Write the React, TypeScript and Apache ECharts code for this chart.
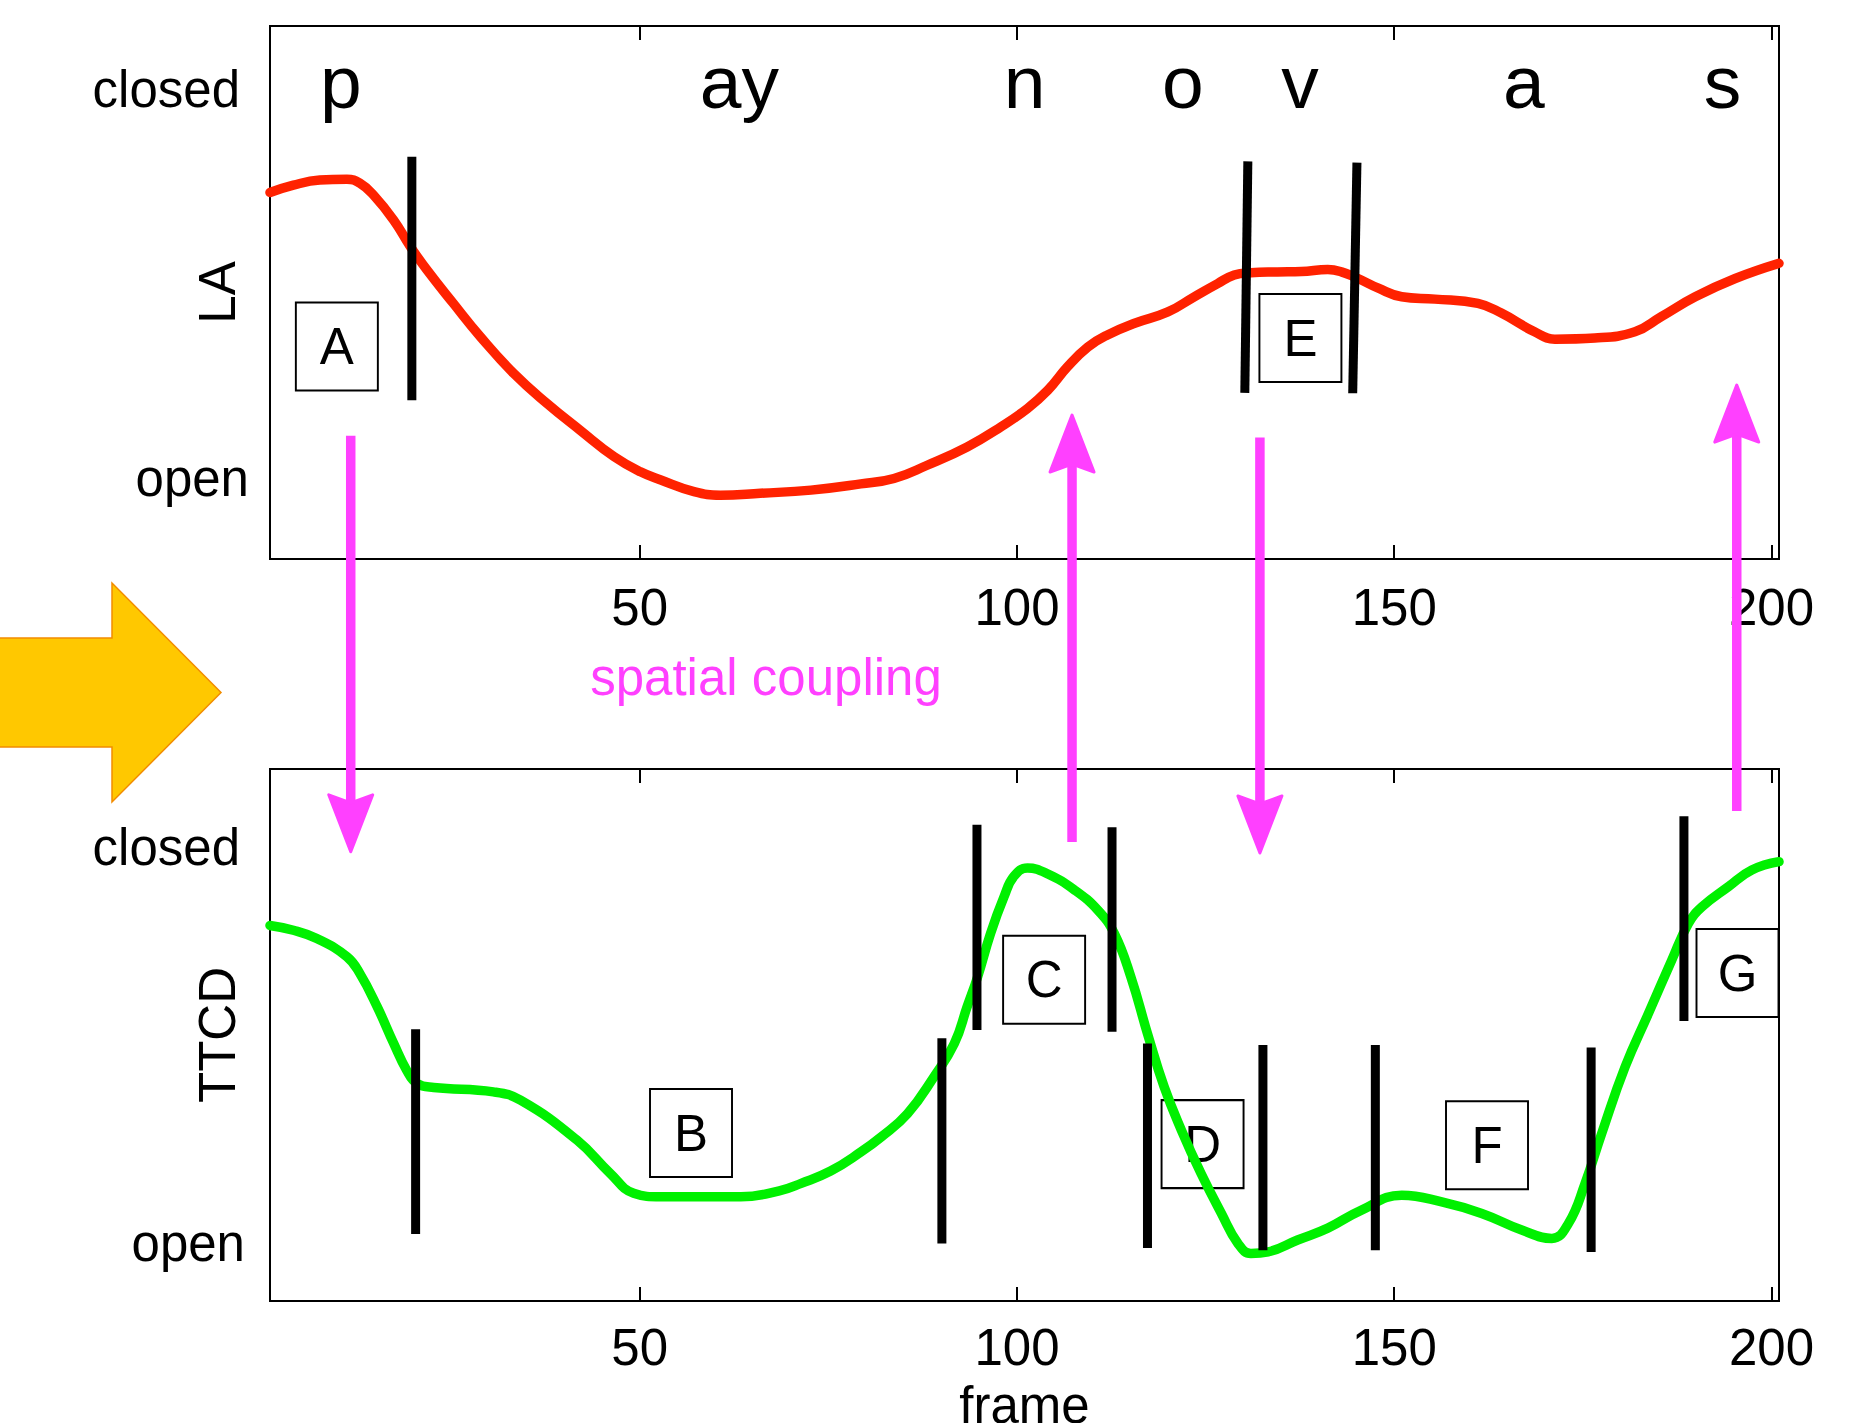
import React, { useEffect, useRef } from "react";
import * as echarts from "echarts";

const FONT = "'Liberation Sans', Arial, Helvetica, sans-serif";

// ---- axes ----
const frameTicks = [50, 100, 150, 200];
const frameMin = 1;
const frameMax = 201;
const stateValues = [0, 1];
const stateLabels = ["open", "closed"];
const laRange = [-0.208, 1.162];
const ttcdRange = [-0.146, 1.197];

// ---- phoneme labels ----
const phonemes = ["p", "ay", "n", "o", "v", "a", "s"];
const phonemeFrames = [10.4, 63.2, 101.0, 122.0, 137.5, 167.2, 193.5];
const phonemeLevel = 1.019;

// ---- LA trajectory (red) ----
const laCurve: number[][] = [
  [1, 0.734], [4.1, 0.753], [7.6, 0.766], [11.2, 0.768], [12.9, 0.758], [14.7, 0.728],
  [17.4, 0.663], [19.6, 0.595], [21.8, 0.535], [25.3, 0.449], [28.9, 0.363], [33.3, 0.269],
  [37.7, 0.192], [42.1, 0.123], [46.6, 0.055], [50.1, 0.016], [52.8, -0.005], [57.2, -0.035],
  [60.7, -0.044], [66.0, -0.039], [72.7, -0.031], [79.3, -0.015], [83.7, -0.001], [88.1, 0.033],
  [93.4, 0.080], [97.9, 0.132], [101.4, 0.179], [104.1, 0.226], [106.7, 0.286], [109.4, 0.337],
  [112.0, 0.368], [115.6, 0.398], [120.0, 0.427], [123.5, 0.466], [126.6, 0.500], [128.8, 0.522],
  [131.0, 0.528], [134.5, 0.530], [137.7, 0.531], [141.2, 0.536], [143.0, 0.530], [145.2, 0.513],
  [147.9, 0.488], [151.0, 0.466], [155.4, 0.460], [161.1, 0.449], [164.2, 0.424], [168.6, 0.376],
  [171.3, 0.357], [176.6, 0.360], [181.9, 0.376], [185.4, 0.415], [189.9, 0.466], [195.2, 0.513],
  [201.0, 0.552],
];

// ---- TTCD trajectory (green) ----
const ttcdCurve: number[][] = [
  [1, 0.802], [4.1, 0.790], [7.2, 0.769], [11.2, 0.723], [12.9, 0.681], [15.2, 0.597],
  [17.4, 0.504], [19.1, 0.437], [20.5, 0.403], [22.7, 0.393], [30.6, 0.382], [34.2, 0.361],
  [41.7, 0.260], [46.1, 0.176], [49.2, 0.126], [52.8, 0.117], [63.4, 0.117], [68.5, 0.132],
  [71.4, 0.151], [75.3, 0.182], [79.3, 0.230], [82.0, 0.268], [85.5, 0.327], [89.0, 0.420],
  [91.7, 0.504], [93.4, 0.597], [94.8, 0.673], [96.5, 0.782], [98.3, 0.875], [99.6, 0.926],
  [101.4, 0.947], [104.1, 0.932], [107.6, 0.892], [110.7, 0.841], [112.9, 0.782], [115.1, 0.672],
  [117.3, 0.529], [119.5, 0.395], [121.8, 0.285], [124.4, 0.176], [127.1, 0.075], [129.3, -0.001],
  [131.0, -0.026], [133.3, -0.022], [137.2, 0.008], [141.2, 0.038], [145.6, 0.083], [151.0, 0.121],
  [156.3, 0.104], [161.6, 0.075], [166.9, 0.033], [170.9, 0.012], [173.1, 0.050], [175.3, 0.151],
  [177.5, 0.277], [180.6, 0.445], [183.7, 0.580], [186.8, 0.715], [189.0, 0.807], [190.8, 0.849],
  [194.3, 0.900], [197.4, 0.942], [201.0, 0.963],
];

// ---- segment boundaries (black bars): [frameTop, valueTop, frameBottom, valueBottom] ----
const laBoundaries: number[][] = [
  [19.8, 0.826, 19.8, 0.200],
  [130.6, 0.814, 130.2, 0.219],
  [145.06, 0.811, 144.5, 0.218],
];
const ttcdBoundaries: number[][] = [
  [20.3, 0.540, 20.3, 0.023],
  [90.05, 0.517, 90.05, -0.001],
  [94.7, 1.056, 94.7, 0.538],
  [112.6, 1.050, 112.6, 0.534],
  [117.3, 0.504, 117.3, -0.012],
  [132.6, 0.500, 132.6, -0.018],
  [147.5, 0.500, 147.5, -0.018],
  [176.1, 0.494, 176.1, -0.022],
  [188.4, 1.078, 188.4, 0.561],
];

// ---- boxed letters ----
const laBoxLetters = ["A", "E"];
const laBoxCenters: number[][] = [[9.86, 0.338], [137.57, 0.36]];
const ttcdBoxLetters = ["B", "C", "D", "F", "G"];
const ttcdBoxCenters: number[][] = [
  [56.8, 0.278], [103.6, 0.665], [124.6, 0.25], [162.3, 0.247], [195.5, 0.682],
];

// ---- spatial coupling arrows ----
const couplingFrames = [11.7, 107.3, 132.2, 195.4];
const couplingDirections = ["down", "up", "down", "up"];
const couplingLA = [0.109, 0.162, 0.104, 0.239];
const couplingTTCD = [0.988, 1.013, 0.985, 1.091];
const couplingText = "spatial coupling";

const MAGENTA = "#FF40FF";

function xAxesFor(grid: number, labelMargin: number, name?: string) {
  const common = {
    type: "value",
    gridIndex: grid,
    min: frameMin,
    max: frameMax,
    splitLine: { show: false },
    axisLine: { show: false, onZero: false },
    axisTick: {
      show: true,
      inside: true,
      length: 14,
      customValues: frameTicks,
      lineStyle: { color: "#000", width: 2 },
    },
  };
  return [
    {
      ...common,
      position: "bottom",
      axisLabel: {
        show: true,
        customValues: frameTicks,
        fontSize: 51,
        color: "#000",
        fontFamily: FONT,
        margin: labelMargin,
      },
      name: name || "",
      nameLocation: "middle",
      nameGap: 79,
      nameMoveOverlap: false,
      nameTextStyle: { fontSize: 51, color: "#000", fontFamily: FONT },
    },
    { ...common, position: "top", axisLabel: { show: false } },
  ];
}

function yAxisFor(grid: number, range: number[], name: string, margin: number, closedPad: number) {
  return {
    type: "value",
    gridIndex: grid,
    min: range[0],
    max: range[1],
    axisLine: { show: false, onZero: false },
    axisTick: { show: false },
    splitLine: { show: false },
    axisLabel: {
      customValues: stateValues,
      margin,
      fontSize: 51,
      color: "#000",
      fontFamily: FONT,
      formatter: (v: number) => {
        const i = v > 0.5 ? 1 : 0;
        return i === 1 ? `{c|${stateLabels[1]}}` : `{o|${stateLabels[0]}}`;
      },
      rich: {
        c: { fontSize: 51, color: "#000", fontFamily: FONT, padding: [0, closedPad, 0, 0] },
        o: { fontSize: 51, color: "#000", fontFamily: FONT },
      },
    },
    name,
    nameLocation: "middle",
    nameRotate: 90,
    nameGap: 27,
    nameMoveOverlap: false,
    nameTextStyle: { fontSize: 51, color: "#000", fontFamily: FONT },
  };
}

function boundarySeries(list: number[][], xi: number, yi: number) {
  return list.map((b) => ({
    type: "line",
    xAxisIndex: xi,
    yAxisIndex: yi,
    data: [
      [b[0], b[1]],
      [b[2], b[3]],
    ],
    symbol: "none",
    silent: true,
    z: 4,
    lineStyle: { color: "#000", width: 9, cap: "butt" },
  }));
}

function boxSeries(letters: string[], centers: number[][], xi: number, yi: number) {
  return {
    type: "scatter",
    xAxisIndex: xi,
    yAxisIndex: yi,
    data: centers,
    symbol: "rect",
    symbolSize: [82, 88],
    silent: true,
    z: 1,
    itemStyle: { color: "rgba(255,255,255,0)", borderColor: "#000", borderWidth: 2, opacity: 1 },
    label: {
      show: true,
      position: "inside",
      formatter: (p: any) => letters[p.dataIndex],
      fontSize: 51,
      color: "#000",
      fontFamily: FONT,
    },
  };
}

function buildOption() {
  return {
    animation: false,
    backgroundColor: "#fff",
    textStyle: { fontFamily: FONT },
    grid: [
      {
        left: 270, top: 26, width: 1509, height: 533,
        show: true, borderColor: "#000", borderWidth: 2, backgroundColor: "rgba(0,0,0,0)",
        containLabel: false, outerBoundsMode: "none",
      },
      {
        left: 270, top: 769, width: 1509, height: 532,
        show: true, borderColor: "#000", borderWidth: 2, backgroundColor: "rgba(0,0,0,0)",
        containLabel: false, outerBoundsMode: "none",
      },
    ],
    xAxis: [...xAxesFor(0, 23), ...xAxesFor(1, 21, "frame")],
    yAxis: [
      yAxisFor(0, laRange, "LA", 21, 9),
      yAxisFor(1, ttcdRange, "TTCD", 25, 5),
    ],
    series: [
      boxSeries(laBoxLetters, laBoxCenters, 0, 0),
      boxSeries(ttcdBoxLetters, ttcdBoxCenters, 2, 1),
      {
        type: "line",
        name: "LA",
        xAxisIndex: 0,
        yAxisIndex: 0,
        data: laCurve,
        showSymbol: false,
        symbol: "none",
        smooth: 0.45,
        silent: true,
        z: 3,
        lineStyle: { color: "#FF2200", width: 9.5, cap: "round", join: "round" },
      },
      {
        type: "line",
        name: "TTCD",
        xAxisIndex: 2,
        yAxisIndex: 1,
        data: ttcdCurve,
        showSymbol: false,
        symbol: "none",
        smooth: 0.45,
        silent: true,
        z: 3,
        lineStyle: { color: "#00F000", width: 9.5, cap: "round", join: "round" },
      },
      ...boundarySeries(laBoundaries, 0, 0),
      ...boundarySeries(ttcdBoundaries, 2, 1),
      {
        type: "scatter",
        xAxisIndex: 0,
        yAxisIndex: 0,
        data: phonemeFrames.map((f) => [f, phonemeLevel]),
        symbolSize: 2,
        itemStyle: { color: "rgba(0,0,0,0)", opacity: 1 },
        silent: true,
        z: 5,
        label: {
          show: true,
          position: "inside",
          formatter: (p: any) => phonemes[p.dataIndex],
          fontSize: 75,
          color: "#000",
          fontFamily: FONT,
        },
      },
    ],
  };
}

function buildGraphic(chart: any) {
  const els: any[] = [];
  els.push({
    type: "polygon",
    z: 1,
    shape: {
      points: [[-10, 638], [112, 638], [112, 583], [221, 692.5], [112, 802], [112, 747], [-10, 747]],
    },
    style: { fill: "#FFC800", stroke: "#F28C00", lineWidth: 1.5 },
  });
  els.push({
    type: "text",
    z: 1,
    x: 766,
    y: 677,
    style: {
      text: couplingText,
      fill: MAGENTA,
      fontSize: 51,
      fontFamily: FONT,
      align: "center",
      verticalAlign: "middle",
      textAlign: "center",
      textVerticalAlign: "middle",
    },
  });
  couplingFrames.forEach((f, i) => {
    const pLA = chart.convertToPixel({ xAxisIndex: 0, yAxisIndex: 0 }, [f, couplingLA[i]]);
    const pT = chart.convertToPixel({ xAxisIndex: 2, yAxisIndex: 1 }, [f, couplingTTCD[i]]);
    if (!pLA || !pT) return;
    const down = couplingDirections[i] === "down";
    const tail = down ? pLA : pT;
    const tip = down ? pT : pLA;
    const s = down ? -1 : 1;
    const x = tip[0];
    const ty = tip[1];
    els.push({
      type: "line",
      z: 50,
      shape: { x1: x, y1: tail[1], x2: x, y2: ty + s * 48 },
      style: { stroke: MAGENTA, lineWidth: 9.5 },
    });
    els.push({
      type: "polygon",
      z: 51,
      shape: {
        points: [
          [x, ty],
          [x + 22, ty + s * 57],
          [x, ty + s * 49],
          [x - 22, ty + s * 57],
        ],
      },
      style: { fill: MAGENTA, stroke: MAGENTA, lineWidth: 3, lineJoin: "round" },
    });
  });
  return els;
}

export default function App() {
  const ref = useRef<HTMLDivElement>(null);
  useEffect(() => {
    if (!ref.current) return;
    const chart = echarts.init(ref.current, null, { renderer: "svg" });
    chart.setOption(buildOption() as any);
    chart.setOption({ graphic: { elements: buildGraphic(chart) } } as any);
    return () => chart.dispose();
  }, []);
  return (
    <div
      ref={ref}
      style={{ position: "absolute", left: 0, top: 0, width: 1857, height: 1423, background: "#fff" }}
    />
  );
}
